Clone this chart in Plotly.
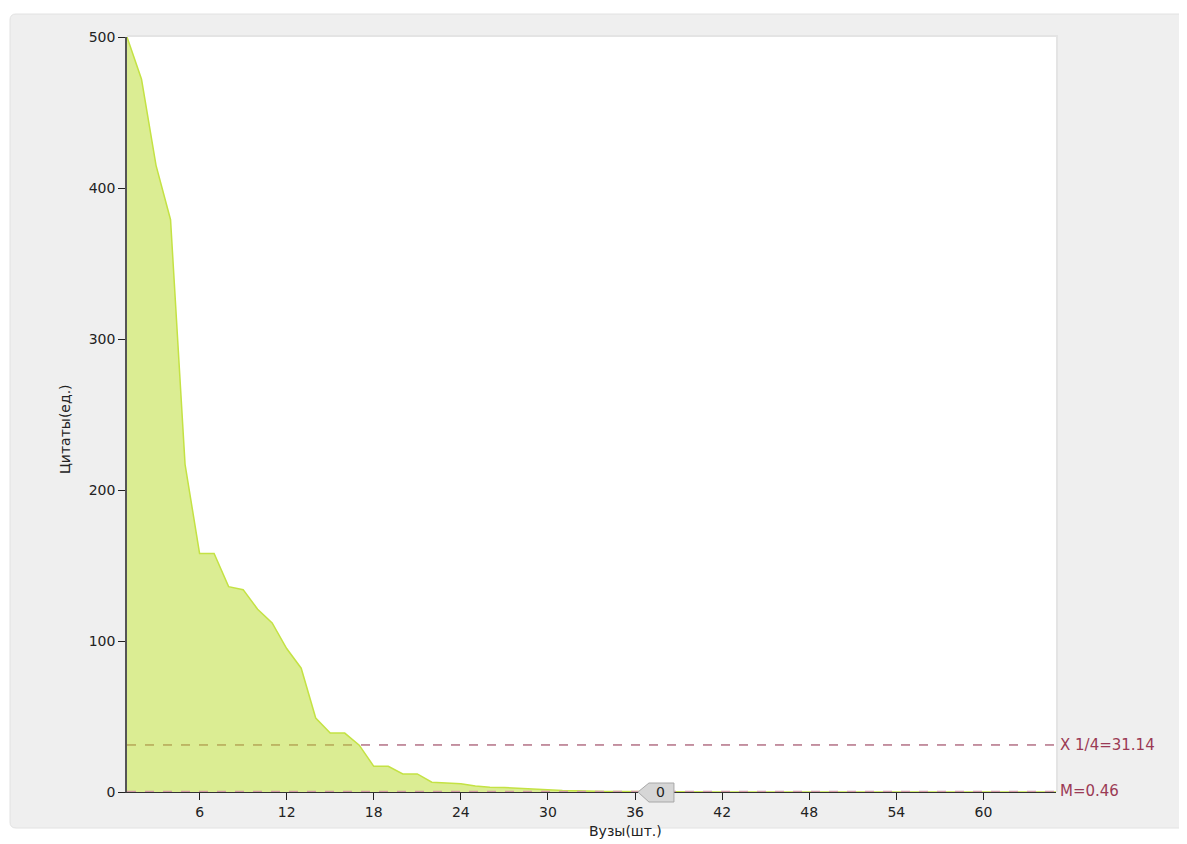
import plotly.graph_objects as go

# Data: citations per university, sorted descending
vuzy = list(range(1, 66))
citaty = [500, 472, 415, 379, 217, 158, 158, 136, 134, 121,
          112, 95, 82, 49, 39, 39, 31, 17, 17, 12,
          12, 6.5, 6, 5.5, 4, 3.2, 3, 2.5, 2, 1.2,
          1, 0.8, 0.46, 0.4, 0.3, 0.2] + [0] * 29

q_label = "X 1/4=31.14"
q_value = 31.14
m_label = "M=0.46"
m_value = 0.46
marker_x = 36.2
marker_text = "0"

x_ticks = [6, 12, 18, 24, 30, 36, 42, 48, 54, 60]
y_ticks = [0, 100, 200, 300, 400, 500]

FONT = "DejaVu Sans"
GRAY = "#efefef"
ROSE = "#9b3a55"

# page has an 8px body margin, so work in page pixels and shift
OFF = 8
W, H = 1187, 844 - OFF
L, R, T, B = 127, 1056, 37, 792
pw, ph = R - L, B - T


def px_x(p):
    return (p - L) / pw


def px_y(p):
    return (B - p) / ph


fig = go.Figure()

fig.add_trace(go.Scatter(
    x=vuzy, y=citaty, mode="lines",
    line=dict(color="#c4e244", width=1.5),
    fill="tozeroy", fillcolor="rgba(184,220,40,0.5)",
    hoverinfo="x+y", showlegend=False,
))

# background panel with rounded corner, then white plot area on top
x0, x1 = px_x(10), px_x(1200)
y0, y1 = px_y(828), px_y(14)
rx, ry = 6 / pw, 6 / ph
panel = (f"M{x0 + rx},{y1} L{x1},{y1} L{x1},{y0} L{x0 + rx},{y0} "
         f"Q{x0},{y0} {x0},{y0 + ry} L{x0},{y1 - ry} Q{x0},{y1} {x0 + rx},{y1} Z")
mx = (marker_x - vuzy[0]) / (vuzy[-1] - vuzy[0])
shapes = [
    dict(type="path", path=panel, xref="paper", yref="paper", layer="below",
         fillcolor=GRAY, line=dict(color="#e2e2e2", width=1)),
    dict(type="rect", x0=0, x1=1 + 2 / pw, y0=0, y1=1 + 2 / ph,
         xref="paper", yref="paper", layer="below",
         fillcolor="#e4e4e4", line=dict(width=0)),
    dict(type="rect", x0=0, x1=1, y0=0, y1=1, xref="paper", yref="paper",
         layer="below", fillcolor="white", line=dict(width=0)),
    # quartile and median lines
    dict(type="line", x0=0, x1=1, y0=q_value, y1=q_value, xref="paper", yref="y",
         layer="below", line=dict(color="#8c2a48", width=1, dash="dash")),
    dict(type="line", x0=0, x1=1, y0=m_value, y1=m_value, xref="paper", yref="y",
         layer="above", line=dict(color="#d09aa4", width=1.2, dash="dash")),
    # callout marker
    dict(type="path", xref="paper", yref="paper", xsizemode="pixel", ysizemode="pixel",
         xanchor=mx, yanchor=0,
         path="M0,0 L11,9 L36,9 L36,-10 L11,-10 Z",
         fillcolor="#d6d6d6", line=dict(color="#a8a8a8", width=1)),
]

annotations = [
    dict(text=q_label, x=1.002, y=q_value, xref="paper", yref="y",
         xanchor="left", yanchor="middle", showarrow=False,
         font=dict(family=FONT, size=15, color=ROSE)),
    dict(text=m_label, x=1.002, y=m_value, xref="paper", yref="y",
         xanchor="left", yanchor="middle", showarrow=False,
         font=dict(family=FONT, size=15, color=ROSE)),
    dict(text=marker_text, x=marker_x, y=0, xref="x", yref="y",
         xanchor="center", yanchor="middle", xshift=23, yshift=0, showarrow=False,
         font=dict(family=FONT, size=14, color="#222")),
    dict(text="Цитаты(ед.)", x=px_x(65), y=px_y(429), xref="paper", yref="paper",
         textangle=-90, xanchor="center", yanchor="middle", showarrow=False,
         font=dict(family=FONT, size=14, color="#222")),
    dict(text="Вузы(шт.)", x=px_x(625), y=px_y(831), xref="paper", yref="paper",
         xanchor="center", yanchor="middle", showarrow=False,
         font=dict(family=FONT, size=14, color="#222")),
]

fig.update_layout(
    width=W, height=H,
    margin=dict(l=L - OFF, r=W - R + OFF, t=T - OFF, b=H - B + OFF, pad=0),
    paper_bgcolor="white", plot_bgcolor="white",
    font=dict(family=FONT, size=14, color="#222"),
    shapes=shapes, annotations=annotations,
    xaxis=dict(range=[vuzy[0], vuzy[-1]], tickvals=x_ticks, ticks="outside", ticklen=7,
               tickcolor="#222", showgrid=False, zeroline=False,
               showline=True, linecolor="#333", linewidth=1,
               tickfont=dict(family=FONT, size=14)),
    yaxis=dict(range=[0, 500], tickvals=y_ticks, ticks="outside", ticklen=7,
               tickcolor="#222", showgrid=False, zeroline=False,
               showline=True, linecolor="#555", linewidth=1.5,
               tickfont=dict(family=FONT, size=14)),
)

fig.write_html("out.html")
